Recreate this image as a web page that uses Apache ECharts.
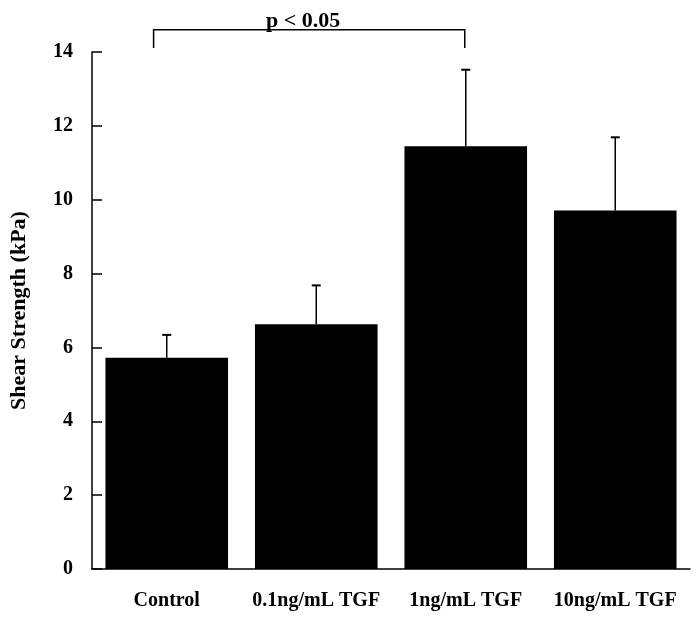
<!DOCTYPE html>
<html>
<head>
<meta charset="utf-8">
<script src="https://cdn.jsdelivr.net/npm/echarts@6/dist/echarts.min.js"></script>
<style>
html,body{margin:0;padding:0;background:#fff;}
#chart{width:699px;height:618px;}
</style>
</head>
<body>
<div id="chart"></div>
<script>
var categories = ['Control', '0.1ng/mL TGF', '1ng/mL TGF', '10ng/mL TGF'];
var means = [5.72, 6.63, 11.45, 9.71];
var errorTops = [6.34, 7.68, 13.52, 11.69];
var yTicks = {min: 0, max: 14, interval: 2};
var yAxisTitle = 'Shear Strength (kPa)';
var sigLabel = 'p < 0.05';
// bracket: [from category, to category, top value, leg bottom value]
var bracket = [0, 2, 14.6, 14.11];

var FONT = '"Liberation Serif", "Times New Roman", serif';
var chart = echarts.init(document.getElementById('chart'));

var errData = categories.map(function (c, i) { return [i, means[i], errorTops[i]]; });

chart.setOption({
  animation: false,
  backgroundColor: '#fff',
  grid: {left: 90, right: 9, top: 52, bottom: 49, containLabel: false},
  xAxis: {
    type: 'category',
    data: categories,
    axisLine: {lineStyle: {color: '#000', width: 1.5}},
    axisTick: {show: false},
    axisLabel: {interval: 0, color: '#000', fontFamily: FONT, fontWeight: 'bold', fontSize: 20, margin: 22}
  },
  yAxis: {
    type: 'value',
    min: yTicks.min, max: yTicks.max, interval: yTicks.interval,
    name: yAxisTitle,
    nameLocation: 'middle',
    nameGap: 62,
    nameRotate: 90,
    nameTextStyle: {color: '#000', fontFamily: FONT, fontWeight: 'bold', fontSize: 22},
    axisLine: {show: true, lineStyle: {color: '#000', width: 1.5}},
    axisTick: {show: true, inside: true, length: 10, lineStyle: {color: '#000', width: 1.5}},
    splitLine: {show: false},
    axisLabel: {color: '#000', fontFamily: FONT, fontWeight: 'bold', fontSize: 20, margin: 19}
  },
  series: [
    {
      type: 'bar',
      data: means,
      barWidth: '82%',
      itemStyle: {color: '#000'},
      z: 2
    },
    {
      type: 'custom',
      data: errData,
      z: 3,
      clip: false,
      renderItem: function (params, api) {
        var x = api.value(0);
        var base = api.coord([x, api.value(1)]);
        var top = api.coord([x, api.value(2)]);
        var hw = 4.5;
        var st = {stroke: '#000', lineWidth: 1.5};
        return {
          type: 'group',
          children: [
            {type: 'line', shape: {x1: base[0], y1: base[1], x2: top[0], y2: top[1]}, style: st},
            {type: 'line', shape: {x1: top[0] - hw, y1: top[1], x2: top[0] + hw, y2: top[1]}, style: {stroke: '#000', lineWidth: 2}}
          ]
        };
      }
    },
    {
      type: 'custom',
      data: [bracket],
      z: 3,
      clip: false,
      renderItem: function (params, api) {
        var band = api.size([1, 0])[0];
        var a = api.coord([api.value(0), api.value(2)]);
        var b = api.coord([api.value(1), api.value(2)]);
        var aLow = api.coord([api.value(0), api.value(3)]);
        var x1 = a[0] - band * 0.088, x2 = b[0] - 1;
        var yTop = a[1], yLow = aLow[1];
        return {
          type: 'group',
          children: [
            {type: 'polyline', shape: {points: [[x1, yLow], [x1, yTop], [x2, yTop], [x2, yLow]]}, style: {stroke: '#000', lineWidth: 1.5, fill: null}},
            {type: 'text', style: {text: sigLabel, x: (x1 + x2) / 2 - 6, y: yTop + 2, textAlign: 'center', textVerticalAlign: 'bottom', font: 'bold 22px ' + FONT, fill: '#000'}, z2: 10}
          ]
        };
      }
    }
  ]
});
</script>
</body>
</html>
